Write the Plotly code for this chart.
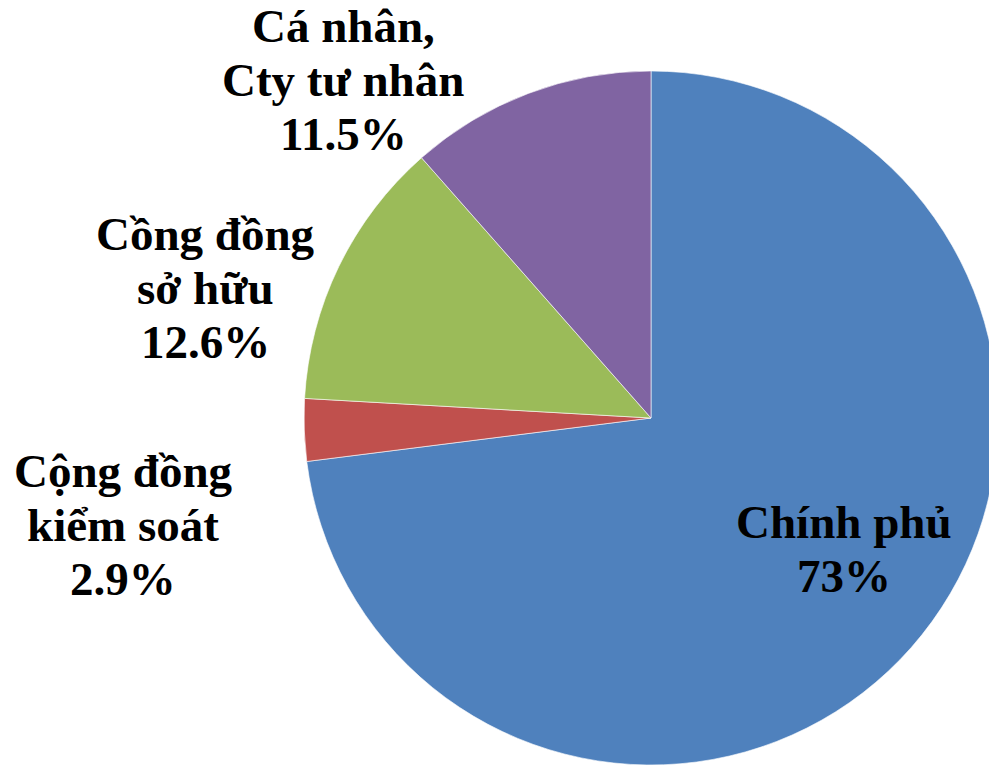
import plotly.graph_objects as go

# ---- data ----
categories = ["Chính phủ", "Cộng đồng kiểm soát", "Cồng đồng sở hữu", "Cá nhân, Cty tư nhân"]
values = [73, 2.9, 12.6, 11.5]
label_lines = [["Chính phủ"], ["Cộng đồng", "kiểm soát"], ["Cồng đồng", "sở hữu"], ["Cá nhân,", "Cty tư nhân"]]
pct_labels = ["73%", "2.9%", "12.6%", "11.5%"]
colors = ["#4F81BD", "#C0504D", "#9BBB59", "#8064A2"]

# ---- layout constants (pixels) ----
W, H = 1000, 766
FONT_SIZE = 47
LINE_STEP = 54
# label block: (center x, first baseline y)
label_pos = [(844, 538), (123, 487), (205, 250), (343, 42)]

fig = go.Figure(go.Pie(
    labels=categories,
    values=values,
    sort=False,
    direction="clockwise",
    rotation=0,
    textinfo="none",
    hoverinfo="label+percent",
    marker=dict(colors=colors, line=dict(color="rgba(255,255,255,0.6)", width=1)),
    domain=dict(x=[0.304, 0.998], y=[1 - 765 / H, 1 - 71 / H]),
    showlegend=False,
))

annotations = []
for lines, pct, (cx, by) in zip(label_lines, pct_labels, label_pos):
    for i, t in enumerate(lines + [pct]):
        yb = by + i * LINE_STEP
        annotations.append(dict(
            text=t, x=cx / W, y=1 - (yb - 16) / H, xref="paper", yref="paper",
            xanchor="center", yanchor="middle", showarrow=False,
            font=dict(family="Liberation Serif", size=FONT_SIZE, color="black", weight="bold"),
        ))

fig.update_layout(
    width=W, height=H,
    margin=dict(l=0, r=0, t=0, b=0),
    paper_bgcolor="white", plot_bgcolor="white",
    annotations=annotations,
)

fig.write_html(
    "out.html",
    post_script="document.documentElement.style.overflow='hidden';document.body.style.overflow='hidden';document.body.style.margin='0';",
)
